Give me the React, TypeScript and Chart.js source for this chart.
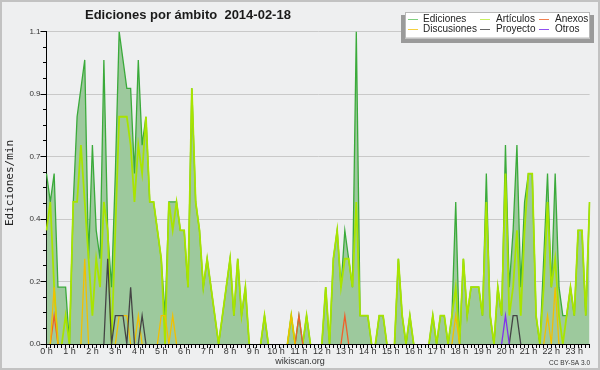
import React, { useEffect, useRef } from 'react';
import { Chart, registerables } from 'chart.js';

Chart.register(...registerables);

// 10-minute slots from 0:00 to 23:40
const timeSlots: string[] = Array.from({ length: 143 }, (_, i) => `${Math.floor(i / 6)}:${String((i % 6) * 10).padStart(2, '0')}`);

const hourLabels = [
  '0 h', '1 h', '2 h', '3 h', '4 h', '5 h', '6 h', '7 h', '8 h', '9 h', '10 h', '11 h',
  '12 h', '13 h', '14 h', '15 h', '16 h', '17 h', '18 h', '19 h', '20 h', '21 h', '22 h', '23 h',
];

const yTickValues = [0, 0.22, 0.44, 0.66, 0.88, 1.1];
const yMinorStep = 0.055;

const ediciones = [
  0.6, 0.5, 0.6, 0.2, 0.2, 0.2, 0.0, 0.5, 0.8, 0.9, 1.0, 0.3,
  0.7, 0.4, 0.3, 1.0, 0.4, 0.2, 0.6, 1.1, 1.0, 0.9, 0.9, 0.6,
  1.0, 0.7, 0.8, 0.5, 0.5, 0.4, 0.3, 0.1, 0.5, 0.5, 0.5, 0.4,
  0.4, 0.2, 0.9, 0.5, 0.4, 0.2, 0.3, 0.2, 0.1, 0.0, 0.1, 0.2,
  0.3, 0.1, 0.3, 0.1, 0.2, 0.0, 0, 0, 0, 0.1, 0, 0,
  0, 0, 0, 0, 0.1, 0, 0.1, 0, 0.1, 0, 0, 0,
  0, 0.2, 0, 0.3, 0.4, 0.2, 0.4, 0.3, 0.2, 1.1, 0.1, 0.1,
  0.1, 0, 0, 0.1, 0.1, 0, 0, 0, 0.3, 0.1, 0, 0.1,
  0, 0, 0, 0, 0, 0.1, 0, 0.1, 0.1, 0, 0.1, 0.5,
  0, 0.3, 0.1, 0.2, 0.2, 0.2, 0.1, 0.6, 0.1, 0, 0.2, 0.1,
  0.7, 0.2, 0.4, 0.7, 0.2, 0.5, 0.6, 0.6, 0.1, 0, 0.3, 0.6,
  0.2, 0.6, 0.2, 0.1, 0.1, 0.2, 0.1, 0.4, 0.4, 0.1, 0.5,
];

const articulos = [
  0.4, 0.5, 0.2, 0, 0, 0.1, 0, 0.5, 0.5, 0.7, 0.5, 0.3,
  0.1, 0.3, 0.2, 0.5, 0.4, 0, 0.4, 0.8, 0.8, 0.8, 0.7, 0.5,
  0.7, 0.6, 0.8, 0.5, 0.5, 0.4, 0.3, 0, 0.5, 0.4, 0.5, 0.4,
  0.4, 0.2, 0.9, 0.5, 0.4, 0.2, 0.3, 0.2, 0.1, 0, 0.1, 0.2,
  0.3, 0.1, 0.3, 0.1, 0.2, 0, 0, 0, 0, 0.1, 0, 0,
  0, 0, 0, 0, 0.1, 0, 0, 0, 0.1, 0, 0, 0,
  0, 0.2, 0, 0.3, 0.4, 0.2, 0.3, 0.3, 0.2, 0.5, 0.1, 0.1,
  0.1, 0, 0, 0.1, 0.1, 0, 0, 0, 0.3, 0.1, 0, 0.1,
  0, 0, 0, 0, 0, 0.1, 0, 0.1, 0.1, 0, 0.1, 0.2,
  0, 0.3, 0.1, 0.2, 0.2, 0.2, 0.1, 0.5, 0.1, 0, 0.2, 0.1,
  0.6, 0.1, 0.2, 0.4, 0.1, 0.4, 0.6, 0.6, 0.1, 0, 0.2, 0.5,
  0.2, 0.3, 0.1, 0, 0.1, 0.2, 0.1, 0.4, 0.4, 0.1, 0.5,
];

const anexos = [
  0, 0, 0.1, 0, 0, 0, 0, 0, 0, 0, 0, 0,
  0, 0, 0, 0, 0, 0, 0, 0, 0, 0, 0, 0,
  0, 0, 0, 0, 0, 0, 0, 0, 0, 0, 0, 0,
  0, 0, 0, 0, 0, 0, 0, 0, 0, 0, 0, 0,
  0, 0, 0, 0, 0, 0, 0, 0, 0, 0, 0, 0,
  0, 0, 0, 0, 0, 0, 0.1, 0, 0, 0, 0, 0,
  0, 0, 0, 0, 0, 0, 0.1, 0, 0, 0, 0, 0,
  0, 0, 0, 0, 0, 0, 0, 0, 0, 0, 0, 0,
  0, 0, 0, 0, 0, 0, 0, 0, 0, 0, 0, 0,
  0, 0, 0, 0, 0, 0, 0, 0, 0, 0, 0, 0,
  0, 0, 0, 0, 0, 0, 0, 0, 0, 0, 0, 0,
  0, 0, 0, 0, 0, 0, 0, 0, 0, 0, 0,
];

const discusiones = [
  0, 0, 0.2, 0, 0, 0, 0, 0, 0, 0, 0.3, 0,
  0, 0, 0, 0, 0, 0, 0, 0.1, 0.1, 0.1, 0, 0,
  0.1, 0, 0, 0, 0, 0, 0.1, 0.1, 0, 0.1, 0, 0,
  0, 0, 0, 0, 0, 0, 0, 0, 0, 0, 0, 0,
  0, 0, 0, 0, 0, 0, 0, 0, 0, 0, 0, 0,
  0, 0, 0, 0, 0.1, 0, 0, 0, 0, 0, 0, 0,
  0, 0, 0, 0, 0, 0, 0, 0, 0, 0, 0, 0,
  0, 0, 0, 0, 0, 0, 0, 0, 0, 0, 0, 0,
  0, 0, 0, 0, 0, 0, 0, 0, 0, 0, 0, 0.1,
  0, 0, 0, 0, 0, 0, 0, 0, 0, 0, 0, 0,
  0, 0, 0, 0, 0, 0, 0, 0, 0, 0, 0, 0.1,
  0, 0.2, 0, 0, 0, 0, 0, 0, 0, 0, 0,
];

const proyecto = [
  0, 0, 0, 0, 0, 0, 0, 0, 0, 0, 0, 0,
  0, 0, 0, 0, 0.3, 0, 0.1, 0.1, 0.1, 0, 0.2, 0,
  0, 0.1, 0, 0, 0, 0, 0, 0, 0, 0, 0, 0,
  0, 0, 0, 0, 0, 0, 0, 0, 0, 0, 0, 0,
  0, 0, 0, 0, 0, 0, 0, 0, 0, 0, 0, 0,
  0, 0, 0, 0, 0, 0, 0, 0, 0, 0, 0, 0,
  0, 0, 0, 0, 0, 0, 0, 0, 0, 0, 0, 0,
  0, 0, 0, 0, 0, 0, 0, 0, 0, 0, 0, 0,
  0, 0, 0, 0, 0, 0, 0, 0, 0, 0, 0, 0,
  0, 0, 0, 0, 0, 0, 0, 0, 0, 0, 0, 0,
  0, 0, 0.1, 0.1, 0, 0, 0, 0, 0, 0, 0, 0,
  0, 0, 0, 0, 0, 0, 0, 0, 0, 0, 0,
];

const otros = [
  0, 0, 0, 0, 0, 0, 0, 0, 0, 0, 0, 0,
  0, 0, 0, 0, 0, 0, 0, 0, 0, 0, 0, 0,
  0, 0, 0, 0, 0, 0, 0, 0, 0, 0, 0, 0,
  0, 0, 0, 0, 0, 0, 0, 0, 0, 0, 0, 0,
  0, 0, 0, 0, 0, 0, 0, 0, 0, 0, 0, 0,
  0, 0, 0, 0, 0, 0, 0, 0, 0, 0, 0, 0,
  0, 0, 0, 0, 0, 0, 0, 0, 0, 0, 0, 0,
  0, 0, 0, 0, 0, 0, 0, 0, 0, 0, 0, 0,
  0, 0, 0, 0, 0, 0, 0, 0, 0, 0, 0, 0,
  0, 0, 0, 0, 0, 0, 0, 0, 0, 0, 0, 0,
  0.1, 0, 0, 0, 0, 0, 0, 0, 0, 0, 0, 0,
  0, 0, 0, 0, 0, 0, 0, 0, 0, 0, 0,
];

const TITLE = 'Ediciones por ámbito  2014-02-18';
const Y_TITLE = 'Ediciones/min';
const SITE = 'wikiscan.org';
const LICENSE = 'CC BY-SA 3.0';
const BG = '#eeeff0';
const SANS = '"Liberation Sans", Arial, sans-serif';

const hideFlatZero = {
  borderColor: (c: any) => (c.p0.parsed.y === 0 && c.p1.parsed.y === 0 ? 'rgba(0,0,0,0)' : undefined),
};

const decor = {
  id: 'decor',
  beforeDraw(chart: any) {
    const { ctx, width, height } = chart;
    ctx.save();
    ctx.fillStyle = BG;
    ctx.fillRect(0, 0, width, height);
    ctx.restore();
  },
  afterDraw(chart: any) {
    const { ctx, width, height, chartArea } = chart;
    const ys = chart.scales.y;
    ctx.save();

    // minor y ticks
    ctx.strokeStyle = '#000';
    ctx.lineWidth = 1;
    ctx.beginPath();
    for (let k = 1; k < 20; k++) {
      if (k % 4 === 0) continue;
      const py = Math.round(ys.getPixelForValue(k * yMinorStep) - 0.5) + 0.5;
      ctx.moveTo(chartArea.left - 3.5, py);
      ctx.lineTo(chartArea.left, py);
    }
    ctx.stroke();

    // title
    ctx.fillStyle = '#1a1a1a';
    ctx.font = `bold 13px ${SANS}`;
    ctx.textAlign = 'left';
    ctx.textBaseline = 'alphabetic';
    ctx.fillText(TITLE, 85, 18.5);

    // y axis title
    ctx.save();
    ctx.translate(10, 183);
    ctx.rotate(-Math.PI / 2);
    ctx.font = '11px "DejaVu Sans Mono", monospace';
    ctx.textAlign = 'center';
    ctx.textBaseline = 'middle';
    ctx.fillStyle = '#222';
    ctx.fillText(Y_TITLE, 0, 0);
    ctx.restore();

    // legend box
    ctx.fillStyle = '#9a9a9a';
    ctx.fillRect(401, 15, 193, 28);
    ctx.fillStyle = '#ffffff';
    ctx.fillRect(405, 12.5, 185, 26);
    ctx.strokeStyle = '#b8b8b8';
    ctx.lineWidth = 1;
    ctx.strokeRect(405.5, 12.5, 184, 25.5);

    const colX = [408, 480, 539];
    const textX = [423, 496, 555];
    const rowY = [19.5, 29.5];
    ctx.font = `10px ${SANS}`;
    ctx.textBaseline = 'middle';
    ctx.textAlign = 'left';
    chart.data.datasets.forEach((ds: any, k: number) => {
      const col = k % 3;
      const row = Math.floor(k / 3);
      const yy = rowY[row];
      ctx.strokeStyle = ds.legendColor || ds.borderColor;
      ctx.lineWidth = 1;
      ctx.beginPath();
      ctx.moveTo(colX[col], yy);
      ctx.lineTo(colX[col] + 10, yy);
      ctx.stroke();
      ctx.fillStyle = '#222';
      ctx.fillText(ds.label, textX[col], yy);
    });

    // footer
    ctx.fillStyle = '#333';
    ctx.font = `9px ${SANS}`;
    ctx.textAlign = 'center';
    ctx.textBaseline = 'alphabetic';
    ctx.fillText(SITE, 300, 364);
    ctx.font = `6.5px ${SANS}`;
    ctx.textAlign = 'right';
    ctx.fillText(LICENSE, 590, 365);

    // frame
    ctx.strokeStyle = '#c2c2c2';
    ctx.lineWidth = 2;
    ctx.strokeRect(1, 1, width - 2, height - 2);
    ctx.restore();
  },
};

export default function App() {
  const ref = useRef<HTMLCanvasElement>(null);

  useEffect(() => {
    if (!ref.current) return;
    const chart = new Chart(ref.current, {
      type: 'line',
      data: {
        labels: timeSlots,
        datasets: [
          {
            label: 'Ediciones',
            data: ediciones,
            borderColor: '#3aaa3a',
            legendColor: '#7fcf7f',
            backgroundColor: '#9dc99d',
            fill: 'origin',
            borderWidth: 1.3,
            order: 6,
            segment: hideFlatZero,
          } as any,
          {
            label: 'Artículos',
            data: articulos,
            borderColor: '#a8e400',
            legendColor: '#c8f060',
            borderWidth: 1.8,
            fill: false,
            order: 5,
            segment: hideFlatZero,
          } as any,
          {
            label: 'Anexos',
            data: anexos,
            borderColor: '#f0602a',
            legendColor: '#f08050',
            borderWidth: 1.3,
            fill: false,
            order: 4,
            segment: hideFlatZero,
          } as any,
          {
            label: 'Discusiones',
            data: discusiones,
            borderColor: '#f2c000',
            legendColor: '#f5d040',
            borderWidth: 1.3,
            fill: false,
            order: 3,
            segment: hideFlatZero,
          } as any,
          {
            label: 'Proyecto',
            data: proyecto,
            borderColor: '#444444',
            legendColor: '#666666',
            borderWidth: 1.3,
            fill: false,
            order: 2,
            segment: hideFlatZero,
          } as any,
          {
            label: 'Otros',
            data: otros,
            borderColor: '#8030f0',
            legendColor: '#9050f0',
            borderWidth: 1.3,
            fill: false,
            order: 1,
            segment: hideFlatZero,
          } as any,
        ],
      },
      options: {
        responsive: false,
        animation: false,
        devicePixelRatio: 1,
        layout: { padding: { top: 31.5, right: 10.4, bottom: 0, left: 0 } },
        elements: { point: { radius: 0 }, line: { tension: 0 } },
        plugins: {
          legend: { display: false },
          tooltip: { enabled: false },
          title: { display: false },
        },
        scales: {
          x: {
            type: 'category',
            offset: false,
            z: 1,
            border: { display: true, color: '#000', width: 1 },
            grid: { display: true, drawOnChartArea: false, drawTicks: true, tickLength: 4, tickColor: '#000' },
            ticks: {
              autoSkip: false,
              maxRotation: 0,
              minRotation: 0,
              padding: -2,
              color: '#333',
              font: { family: SANS, size: 9 },
              callback: (_v: any, i: number) => (i % 6 === 0 ? hourLabels[i / 6] : ''),
            },
            afterFit: (s: any) => { s.height = 26; },
          },
          y: {
            type: 'linear',
            min: 0,
            max: 1.1,
            z: 1,
            border: { display: true, color: '#000', width: 1 },
            grid: { color: '#c9c9c9', lineWidth: 1, tickLength: 6, tickColor: '#000' },
            afterBuildTicks: (s: any) => { s.ticks = yTickValues.map((v) => ({ value: v })); },
            ticks: {
              padding: 0,
              color: '#333',
              font: { family: SANS, size: 8 },
              callback: (v: any) => Number(v).toFixed(1),
            },
            afterFit: (s: any) => { s.width = 46.5; },
          },
        },
      },
      plugins: [decor],
    } as any);
    return () => chart.destroy();
  }, []);

  return (
    <div style={{ position: 'fixed', left: 0, top: 0, width: 600, height: 370, margin: 0 }}>
      <canvas ref={ref} width={600} height={370} style={{ display: 'block', width: 600, height: 370 }} />
    </div>
  );
}
